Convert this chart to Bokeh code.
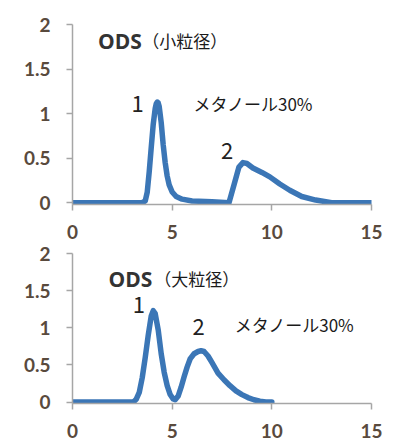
from bokeh.plotting import figure
from bokeh.layouts import column
from bokeh.models import Range1d, FixedTicker
from bokeh.core.properties import value
from bokeh.embed import file_html
from bokeh.resources import INLINE

# ---- data ----
x_ticks = [0, 5, 10, 15]
x_tick_labels = ["0", "5", "10", "15"]
y_ticks = [0, 0.5, 1, 1.5, 2]
y_tick_labels = ["0", "0.5", "1", "1.5", "2"]

# ODS (small particle size)
x_small = [0, 3.5, 3.65, 3.75, 3.85, 3.95, 4.05, 4.15, 4.2, 4.25, 4.3, 4.35, 4.45, 4.55,
           4.65, 4.75, 4.85, 5.0, 5.2, 5.5, 6.0, 7.0, 7.85, 8.1, 8.35, 8.55, 8.75, 9.05,
           9.5, 9.9, 10.4, 10.9, 11.5, 12.2, 13.0, 15.0]
y_small = [0, 0, 0.02, 0.12, 0.35, 0.62, 0.88, 1.06, 1.11, 1.13, 1.12, 1.08, 0.9, 0.65,
           0.45, 0.3, 0.2, 0.12, 0.07, 0.04, 0.02, 0.01, 0.0, 0.2, 0.4, 0.45, 0.44, 0.39,
           0.34, 0.29, 0.21, 0.14, 0.07, 0.03, 0.0, 0.0]

# ODS (large particle size)
x_large = [0, 3.0, 3.1, 3.2, 3.35, 3.5, 3.65, 3.8, 3.95, 4.05, 4.15, 4.3, 4.45, 4.6, 4.75,
           4.9, 5.05, 5.15, 5.3, 5.45, 5.6, 5.75, 5.9, 6.1, 6.3, 6.45, 6.6, 6.8, 7.0, 7.3,
           7.6, 7.9, 8.2, 8.5, 8.8, 9.1, 9.4, 9.7, 10.0]
y_large = [0, 0, 0.01, 0.04, 0.13, 0.33, 0.6, 0.9, 1.16, 1.23, 1.19, 0.97, 0.65, 0.4, 0.22,
           0.1, 0.04, 0.03, 0.08, 0.2, 0.34, 0.47, 0.58, 0.65, 0.68, 0.69, 0.68, 0.62, 0.53,
           0.39, 0.3, 0.22, 0.15, 0.1, 0.06, 0.03, 0.01, 0.0, 0.0]

title_small = "（小粒径）"
title_large = "（大粒径）"
solvent = "メタノール30%"
peak_labels = ["1", "2"]

LINE = "#3b76b6"
AXIS = "#a6a6a6"
TICKTXT = "#594a3d"
JP = value("Noto Sans CJK JP")


def make_fig(w, h, ml, mr, mt, mb, x_standoff):
    p = figure(width=w, height=h,
               x_range=Range1d(0, 15), y_range=Range1d(-0.02, 2),
               output_backend="svg", toolbar_location=None,
               min_border_left=ml, min_border_right=mr, min_border_top=mt,
               min_border_bottom=mb,
               outline_line_color=None, background_fill_color="white",
               border_fill_color="white")
    p.grid.visible = False
    for ax in (p.xaxis, p.yaxis):
        ax.axis_line_color = AXIS
        ax.axis_line_width = 1.5
        ax.major_tick_line_color = AXIS
        ax.major_tick_line_width = 1.5
        ax.major_tick_in = 0
        ax.major_tick_out = 6
        ax.minor_tick_line_color = None
        ax.major_label_text_color = TICKTXT
        ax.major_label_text_font = "Lato"
        ax.major_label_text_font_style = "bold"
        ax.major_label_text_font_size = "19px"
    p.xaxis.ticker = FixedTicker(ticks=x_ticks)
    p.xaxis.major_label_overrides = dict(zip(x_ticks, x_tick_labels))
    p.yaxis.ticker = FixedTicker(ticks=y_ticks)
    p.yaxis.major_label_overrides = dict(zip(y_ticks, y_tick_labels))
    p.xaxis.major_label_standoff = x_standoff
    p.yaxis.major_label_standoff = 16
    return p


# top chart
p1 = make_fig(401, 241, 67, 30, 24, 37, 14)
p1.line(x_small, y_small, line_color=LINE, line_width=5.5, line_join="round", line_cap="round")
p1.text(x=[1.28], y=[1.82], text=["ODS"], text_font=value("Open Sans"), text_font_style="bold",
        text_font_size="21px", text_color="#333333", text_baseline="middle", text_align="left")
p1.text(x=[3.5], y=[1.82], text=[title_small], text_font=JP, text_font_size="17px",
        text_color="#1a1a1a", text_baseline="middle", text_align="left")
p1.text(x=[3.26, 7.75], y=[1.11, 0.58], text=peak_labels, text_font=JP, text_font_size="22px",
        text_color="#222222", text_baseline="middle", text_align="center")
p1.text(x=[6.07], y=[1.11], text=[solvent], text_font=JP, text_font_size="17px",
        text_color="#1a1a1a", text_baseline="middle", text_align="left")

# bottom chart
p2 = make_fig(401, 199, 72, 14, 12, 36, 14)
p2.line(x_large, y_large, line_color=LINE, line_width=5.5, line_join="round", line_cap="round")
p2.text(x=[1.81], y=[1.66], text=["ODS"], text_font=value("Open Sans"), text_font_style="bold",
        text_font_size="21px", text_color="#333333", text_baseline="middle", text_align="left")
p2.text(x=[4.1], y=[1.66], text=[title_large], text_font=JP, text_font_size="17px",
        text_color="#1a1a1a", text_baseline="middle", text_align="left")
p2.text(x=[3.33, 6.33], y=[1.30, 1.01], text=peak_labels, text_font=JP, text_font_size="22px",
        text_color="#222222", text_baseline="middle", text_align="center")
p2.text(x=[8.14], y=[1.04], text=[solvent], text_font=JP, text_font_size="17px",
        text_color="#1a1a1a", text_baseline="middle", text_align="left")

layout = column(p1, p2, spacing=0)
open("out.html", "w").write(file_html(layout, INLINE))
